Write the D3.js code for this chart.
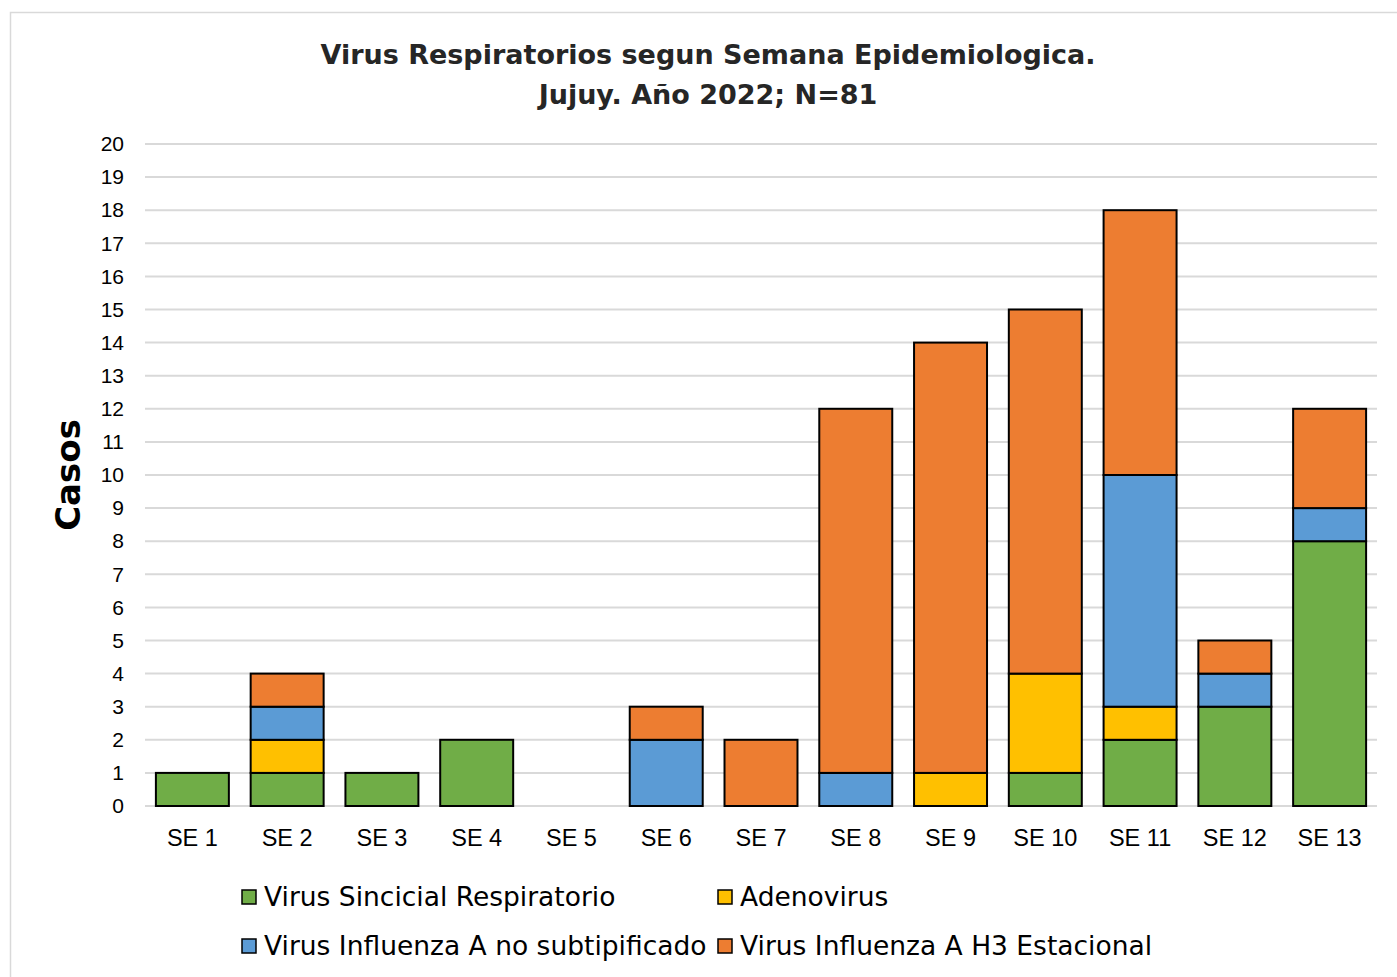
<!DOCTYPE html>
<html>
<head>
<meta charset="utf-8">
<script src="https://cdn.jsdelivr.net/npm/d3@7"></script>
<style>
  body { margin: 0; background: #fff; }
  svg { display: block; font-family: "DejaVu Sans", sans-serif; }
</style>
</head>
<body>
<div id="chart"></div>
<script>
// Datos del gráfico
const semanas = ['SE 1', 'SE 2', 'SE 3', 'SE 4', 'SE 5', 'SE 6', 'SE 7', 'SE 8', 'SE 9', 'SE 10', 'SE 11', 'SE 12', 'SE 13'];
const vsr = [1, 1, 1, 2, 0, 0, 0, 0, 0, 1, 2, 3, 8];
const adenovirus = [0, 1, 0, 0, 0, 0, 0, 0, 1, 3, 1, 0, 0];
const influenzaA = [0, 1, 0, 0, 0, 2, 0, 1, 0, 0, 7, 1, 1];
const influenzaH3 = [0, 1, 0, 0, 0, 1, 2, 11, 13, 11, 8, 1, 3];
const serieNombres = ['Virus Sincicial Respiratorio', 'Adenovirus', 'Virus Influenza A no subtipificado', 'Virus Influenza A H3 Estacional'];
const yTicks = d3.range(0, 21);

const colores = ['#70ad47', '#ffc000', '#5b9bd5', '#ed7d31'];
const series = [vsr, adenovirus, influenzaA, influenzaH3];

const width = 1397;
const height = 977;
const margin = { top: 144, right: 20, bottom: 171, left: 145 };

const svg = d3.select('#chart')
    .append('svg')
    .attr('width', width)
    .attr('height', height);

// Marco exterior
svg.append('rect')
    .attr('x', 10.5)
    .attr('y', 12.5)
    .attr('width', width)
    .attr('height', height)
    .attr('fill', 'none')
    .attr('stroke', '#d9d9d9')
    .attr('stroke-width', 1.5);

const x = d3.scaleBand()
    .domain(semanas)
    .range([margin.left, 1377])
    .paddingInner(0.23)
    .paddingOuter(0.115);

const y = d3.scaleLinear()
    .domain([0, 20])
    .range([806, margin.top]);

// Líneas de cuadrícula
svg.append('g')
    .selectAll('line')
    .data(yTicks)
    .join('line')
    .attr('x1', margin.left)
    .attr('x2', 1377)
    .attr('y1', (d) => y(d))
    .attr('y2', (d) => y(d))
    .attr('stroke', '#d9d9d9')
    .attr('stroke-width', 2);

// Eje Y
const yAxis = svg.append('g')
    .attr('transform', `translate(${margin.left},0)`)
    .call(d3.axisLeft(y).tickValues(yTicks).tickSize(0).tickPadding(21));
yAxis.select('.domain').remove();
yAxis.selectAll('text')
    .attr('font-size', 21)
    .attr('font-family', 'inherit')
    .attr('fill', '#000');

// Eje X
const xAxis = svg.append('g')
    .attr('transform', 'translate(0,806)')
    .call(d3.axisBottom(x).tickSize(0).tickPadding(23));
xAxis.select('.domain').remove();
xAxis.selectAll('text')
    .attr('font-size', 23.5)
    .attr('font-family', 'inherit')
    .attr('fill', '#000');

// Barras apiladas
const tabla = semanas.map((s, i) => {
    const fila = { semana: s };
    serieNombres.forEach((n, j) => { fila[n] = series[j][i]; });
    return fila;
});
const stacked = d3.stack().keys(serieNombres)(tabla);

svg.append('g')
    .selectAll('g')
    .data(stacked)
    .join('g')
    .attr('fill', (_, i) => colores[i])
    .selectAll('rect')
    .data((d) => d.filter((p) => p[1] > p[0]))
    .join('rect')
    .attr('x', (d) => x(d.data.semana))
    .attr('y', (d) => y(d[1]))
    .attr('width', x.bandwidth())
    .attr('height', (d) => y(d[0]) - y(d[1]))
    .attr('stroke', '#000')
    .attr('stroke-width', 2);

// Título
const titulo = svg.append('text')
    .attr('text-anchor', 'middle')
    .attr('font-weight', 'bold')
    .attr('font-size', 27)
    .attr('fill', '#262626');
titulo.append('tspan')
    .attr('x', 708)
    .attr('y', 64)
    .text('Virus Respiratorios segun Semana Epidemiologica.');
titulo.append('tspan')
    .attr('x', 708)
    .attr('y', 104)
    .text('Jujuy. Año 2022; N=81');

// Título eje Y
svg.append('text')
    .attr('transform', 'translate(80,475) rotate(-90)')
    .attr('text-anchor', 'middle')
    .attr('font-weight', 'bold')
    .attr('font-size', 34)
    .attr('fill', '#000')
    .text('Casos');

// Leyenda
const legendPos = [[242, 897], [718, 897], [242, 946], [718, 946]];
const legend = svg.append('g')
    .selectAll('g')
    .data(serieNombres)
    .join('g')
    .attr('transform', (_, i) => `translate(${legendPos[i][0]},${legendPos[i][1]})`);
legend.append('rect')
    .attr('x', 0)
    .attr('y', -7)
    .attr('width', 14)
    .attr('height', 14)
    .attr('fill', (_, i) => colores[i])
    .attr('stroke', '#000')
    .attr('stroke-width', 1.5);
legend.append('text')
    .attr('x', 22)
    .attr('y', 9)
    .attr('font-size', 26.5)
    .attr('fill', '#000')
    .text((d) => d);
</script>
</body>
</html>
